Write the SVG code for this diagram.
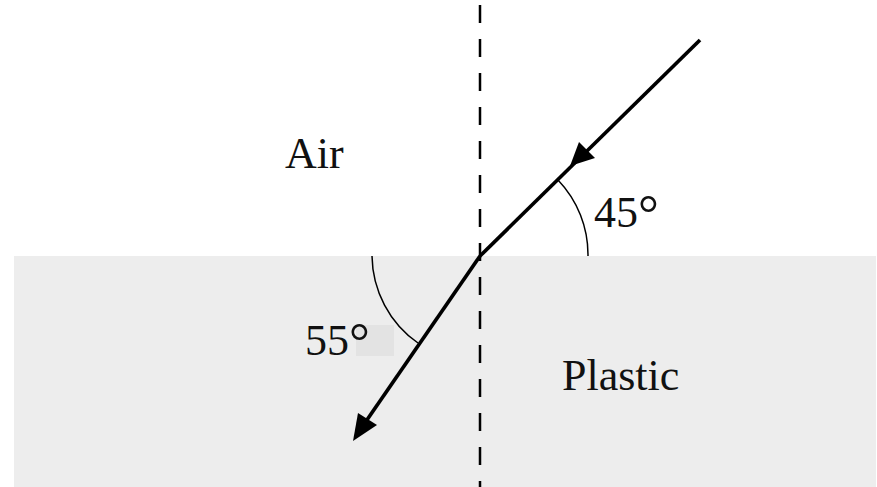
<svg xmlns="http://www.w3.org/2000/svg" width="877" height="487" viewBox="0 0 877 487">
<style>
.t{font-family:"Liberation Serif","Times New Roman",serif;font-size:44px;fill:#111}
.deg{font-size:52px}
.ray{stroke:#000;stroke-width:3.7;fill:none}
.arc{stroke:#000;stroke-width:1.5;fill:none}
</style>
<rect width="877" height="487" fill="#fff"/>
<g id="plastic"><rect x="14" y="256" width="862" height="231" fill="#ededed"/></g>
<g id="label-bg"><rect x="356" y="325" width="38" height="31" fill="#e3e3e3"/></g>
<g id="normal"><line x1="480" y1="5" x2="480" y2="487" stroke="#000" stroke-width="2.5" stroke-dasharray="18,16"/></g>
<g id="connectors">
<line class="ray" x1="700" y1="40" x2="480" y2="256"/>
<line class="ray" x1="480" y1="256" x2="360" y2="430"/>
<polygon points="570,166 579,142 595,158" fill="#000"/>
<polygon points="353,441 358,413 377,425" fill="#000"/>
<path class="arc" d="M558,180 A108,108 0 0 1 588,256"/>
<path class="arc" d="M372,256 A108,108 0 0 0 418,343"/>
</g>
<g id="air"><text class="t" x="285" y="168">Air</text></g>
<g id="angle45"><text class="t" x="594" y="227">45<tspan class="deg" dy="4">°</tspan></text></g>
<g id="angle55"><text class="t" x="305" y="355">55<tspan class="deg" dy="4">°</tspan></text></g>
<g id="plastic-label"><text class="t" x="562" y="390">Plastic</text></g>
</svg>
